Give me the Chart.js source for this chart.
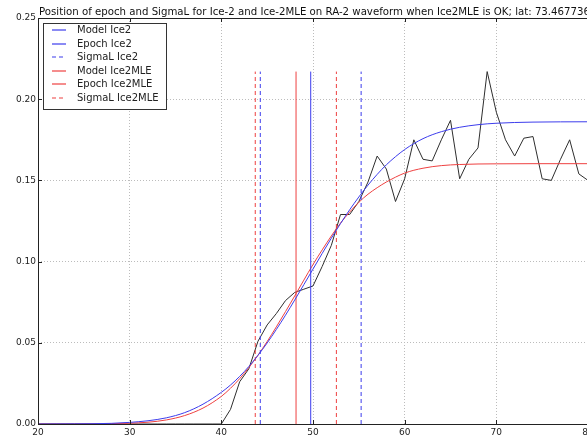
<!DOCTYPE html>
<html>
<head>
<meta charset="utf-8">
<script src="https://cdn.jsdelivr.net/npm/chart.js@4/dist/chart.umd.min.js"></script>
<style>
  html, body { margin: 0; padding: 0; background: #fff; overflow: hidden; width: 587px; height: 435px; }
  canvas { position: absolute; left: 0; top: 0; }
</style>
</head>
<body>
<canvas id="c" width="626" height="445"></canvas>
<script>
// Title of the plot
const titleText = 'Position of epoch and SigmaL for Ice-2 and Ice-2MLE on RA-2 waveform when Ice2MLE is OK; lat: 73.467736';

// Range gates and measured RA-2 waveform power
const gates = [20, 21, 22, 23, 24, 25, 26, 27, 28, 29,
               30, 31, 32, 33, 34, 35, 36, 37, 38, 39,
               40, 41, 42, 43, 44, 45, 46, 47, 48, 49,
               50, 51, 52, 53, 54, 55, 56, 57, 58, 59,
               60, 61, 62, 63, 64, 65, 66, 67, 68, 69,
               70, 71, 72, 73, 74, 75, 76, 77, 78, 79, 80];
const waveform = [0, 0, 0, 0, 0, 0, 0, 0, 0, 0,
                  0, 0, 0, 0, 0, 0, 0, 0, 0, 0,
                  0, 0.009, 0.026, 0.034, 0.051, 0.061, 0.068, 0.076, 0.081, 0.083,
                  0.085, 0.097, 0.110, 0.129, 0.129, 0.137, 0.149, 0.165, 0.157, 0.137,
                  0.151, 0.175, 0.163, 0.162, 0.175, 0.187, 0.151, 0.163, 0.170, 0.217,
                  0.192, 0.175, 0.165, 0.176, 0.177, 0.151, 0.150, 0.163, 0.175, 0.154, 0.150];

// Fitted model waveforms
const modelX = [20, 24, 28, 30, 32, 34, 36, 38, 40, 41, 42, 43, 44, 45, 46, 47, 48, 49,
                50, 51, 52, 53, 54, 55, 56, 57, 58, 60, 62, 64, 66, 68, 70, 74, 80];
const modelIce2 = [0.0000, 0.0001, 0.0004, 0.0010, 0.0020, 0.0038, 0.0070, 0.0122, 0.0195,
                   0.0240, 0.0293, 0.0354, 0.0423, 0.0499, 0.0582, 0.0670, 0.0763, 0.0858,
                   0.0954, 0.1050, 0.1144, 0.1234, 0.1319, 0.1398, 0.1471, 0.1537, 0.1596,
                   0.1690, 0.1757, 0.1800, 0.1827, 0.1843, 0.1852, 0.1859, 0.1861];
const modelIce2MLE = [0.0000, 0.0000, 0.0002, 0.0005, 0.0011, 0.0025, 0.0052, 0.0098, 0.0170,
                      0.0220, 0.0279, 0.0347, 0.0424, 0.0508, 0.0598, 0.0692, 0.0788, 0.0886,
                      0.0982, 0.1072, 0.1158, 0.1237, 0.1305, 0.1365, 0.1415, 0.1455, 0.1490,
                      0.1545, 0.1575, 0.1591, 0.1598, 0.1601, 0.1602, 0.1603, 0.1603];

// Retracked epochs and leading-edge widths (SigmaL) in gates
const epochIce2 = 49.75;
const sigmaLIce2 = [44.25, 55.25];
const epochIce2MLE = 48.15;
const sigmaLIce2MLE = [43.7, 52.55];

// Axis ticks
const xTicks = [20, 30, 40, 50, 60, 70, 80];
const yTicks = [0.00, 0.05, 0.10, 0.15, 0.20, 0.25];

const BLUE = '#3c3cec';
const RED = '#ee4040';
const FONT = '"DejaVu Sans", "Liberation Sans", sans-serif';

// Vertical markers reach up to the waveform peak
const markerTop = Math.max(...waveform);

function pairs(xs, ys) {
  return xs.map((x, i) => ({ x: x, y: ys[i] }));
}
function verticals(xs) {
  const pts = [];
  xs.forEach((x, i) => {
    if (i > 0) pts.push({ x: x, y: null });
    pts.push({ x: x, y: 0 }, { x: x, y: markerTop });
  });
  return pts;
}

// Legend entries: label, colour, dash pattern
const legendEntries = [
  { label: 'Model Ice2', color: BLUE, dash: [] },
  { label: 'Epoch Ice2', color: BLUE, dash: [] },
  { label: 'SigmaL Ice2', color: BLUE, dash: [4, 3] },
  { label: 'Model Ice2MLE', color: RED, dash: [] },
  { label: 'Epoch Ice2MLE', color: RED, dash: [] },
  { label: 'SigmaL Ice2MLE', color: RED, dash: [4, 3] }
];

function lineSet(label, data, color, extra) {
  return Object.assign({
    label: label, data: data, borderColor: color, backgroundColor: color,
    pointRadius: 0, borderWidth: 1, fill: false, spanGaps: false
  }, extra || {});
}

const datasets = [
  lineSet('Model Ice2', pairs(modelX, modelIce2), BLUE, { cubicInterpolationMode: 'monotone' }),
  lineSet('Epoch Ice2', verticals([epochIce2]), BLUE),
  lineSet('SigmaL Ice2', verticals(sigmaLIce2), BLUE, { borderDash: [4, 3] }),
  lineSet('Model Ice2MLE', pairs(modelX, modelIce2MLE), RED, { cubicInterpolationMode: 'monotone' }),
  lineSet('Epoch Ice2MLE', verticals([epochIce2MLE]), RED),
  lineSet('SigmaL Ice2MLE', verticals(sigmaLIce2MLE), RED, { borderDash: [4, 3] }),
  lineSet('Waveform', pairs(gates, waveform), '#2e2e2e')
];

// Axes frame with inward tick marks, title and boxed legend
const decorations = {
  id: 'decorations',
  afterDatasetsDraw(chart) {
    const ctx = chart.ctx;
    const a = chart.chartArea;
    const xs = chart.scales.x, ys = chart.scales.y;
    ctx.save();
    ctx.strokeStyle = '#222';
    ctx.lineWidth = 1;
    ctx.setLineDash([]);
    ctx.strokeRect(Math.round(a.left) + 0.5, Math.round(a.top) + 0.5,
                   Math.round(a.right - a.left), Math.round(a.bottom - a.top));
    ctx.beginPath();
    xTicks.forEach(v => {
      const px = Math.round(xs.getPixelForValue(v)) + 0.5;
      ctx.moveTo(px, a.bottom); ctx.lineTo(px, a.bottom - 4);
      ctx.moveTo(px, a.top); ctx.lineTo(px, a.top + 4);
    });
    yTicks.forEach(v => {
      const py = Math.round(ys.getPixelForValue(v)) + 0.5;
      ctx.moveTo(a.left, py); ctx.lineTo(a.left + 4, py);
    });
    ctx.stroke();

    // title
    ctx.fillStyle = '#111';
    ctx.font = '10.2px ' + FONT;
    ctx.textAlign = 'left';
    ctx.textBaseline = 'alphabetic';
    ctx.fillText(titleText, a.left + 1, 15);

    // legend
    const bx = 43.5, by = 23.5, bw = 123, bh = 86;
    ctx.fillStyle = '#fff';
    ctx.fillRect(bx, by, bw, bh);
    ctx.strokeStyle = '#333';
    ctx.strokeRect(bx, by, bw, bh);
    ctx.font = '10px ' + FONT;
    ctx.textBaseline = 'middle';
    legendEntries.forEach((e, i) => {
      const y = Math.round(30 + i * 13.6);
      ctx.beginPath();
      ctx.strokeStyle = e.color;
      ctx.lineWidth = 1.2;
      ctx.setLineDash(e.dash);
      ctx.moveTo(52, y); ctx.lineTo(66, y);
      ctx.stroke();
      ctx.fillStyle = '#222';
      ctx.fillText(e.label, 77, y + 0.5);
    });
    ctx.restore();
  }
};

new Chart(document.getElementById('c'), {
  type: 'line',
  data: { datasets: datasets },
  options: {
    responsive: false,
    animation: false,
    events: [],
    layout: { padding: { left: 0, right: 38, top: 18, bottom: 0 } },
    plugins: { legend: { display: false }, title: { display: false }, tooltip: { enabled: false } },
    scales: {
      x: {
        type: 'linear', min: 20, max: 80,
        afterBuildTicks: s => { s.ticks = xTicks.map(v => ({ value: v })); },
        afterFit: s => { s.height = 21; },
        grid: { color: '#bcbcbc', lineWidth: 1, drawTicks: false },
        border: { display: false, dash: [1, 2] },
        ticks: { font: { family: FONT, size: 9 }, color: '#222', padding: 3, maxRotation: 0, autoSkip: false,
                 callback: v => String(v) }
      },
      y: {
        type: 'linear', min: 0, max: 0.25,
        afterBuildTicks: s => { s.ticks = yTicks.map(v => ({ value: v })); },
        afterFit: s => { s.width = 38; },
        grid: { color: '#bcbcbc', lineWidth: 1, drawTicks: false },
        border: { display: false, dash: [1, 2] },
        ticks: { font: { family: FONT, size: 9 }, color: '#222', padding: 2, autoSkip: false,
                 callback: v => Number(v).toFixed(2) }
      }
    }
  },
  plugins: [decorations]
});
</script>
</body>
</html>
